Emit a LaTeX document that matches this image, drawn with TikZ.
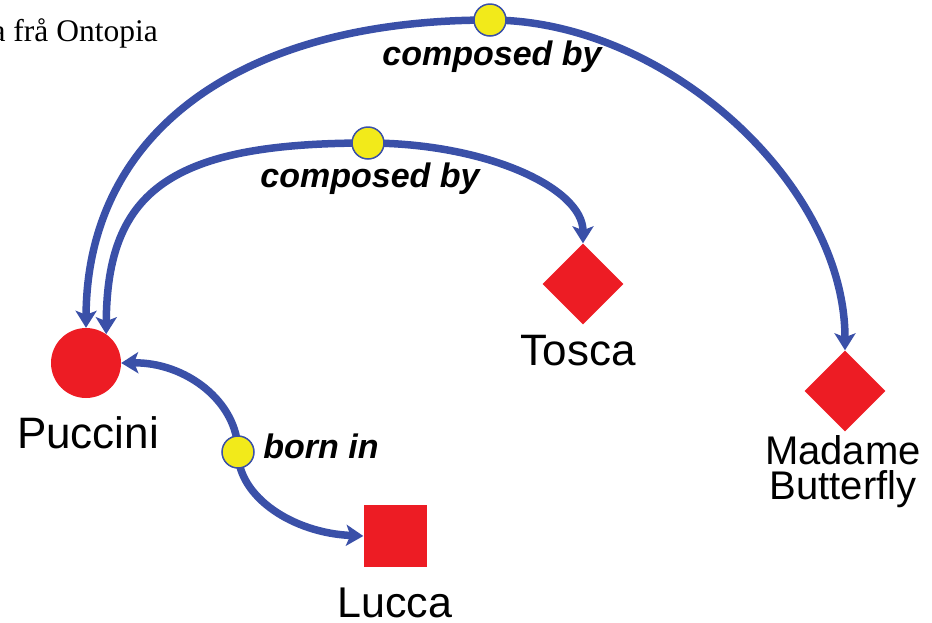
\documentclass[tikz,border=0pt]{standalone}
\usepackage{fontspec}
\setmainfont{Liberation Sans}
\newfontfamily\titleserif{Liberation Serif}
\usetikzlibrary{arrows.meta,shapes.geometric,backgrounds}
\definecolor{assocblue}{RGB}{58,80,168}
\definecolor{topicred}{RGB}{237,28,36}
\definecolor{dotyellow}{RGB}{242,234,26}
\tikzset{
  assoc/.style={draw=assocblue, line width=7.5pt, -{Stealth[length=17pt,width=21pt,inset=4pt]}},
  person/.style={circle, fill=topicred, minimum size=70pt, inner sep=0pt},
  opera/.style={diamond, fill=topicred, minimum width=81pt, minimum height=81pt, inner sep=0pt},
  city/.style={rectangle, fill=topicred, minimum width=63pt, minimum height=62pt, inner sep=0pt},
  assocdot/.style={circle, fill=dotyellow, draw=assocblue, line width=1.5pt, minimum size=32pt, inner sep=0pt},
  topicname/.style={font=\fontsize{44}{44}\selectfont, inner sep=0pt, anchor=base},
  rolelabel/.style={font=\fontsize{34}{34}\selectfont\bfseries\itshape, inner sep=0pt, anchor=base}
}
\begin{document}
\begin{tikzpicture}[x=1pt,y=-1pt]
\useasboundingbox (0,0) rectangle (932,622);
% title
\node[inner sep=0pt, anchor=base east, font=\titleserif\fontsize{31.5}{31.5}\selectfont] (title) at (158,41) {a frå Ontopia};
% topics
\node[person] (pu) at (86,363) {};
\node[opera] (ts) at (583,284) {};
\node[opera] (md) at (845,391) {};
\node[city] (lu) at (395,536) {};
% names
\node[topicname] (puname) at (88,448) {Puccini};
\node[topicname] (tsname) at (578,365) {Tosca};
\node[topicname, font=\fontsize{40}{35}\selectfont, align=center, anchor=north] (mdname) at (843,435) {Madame\\Butterfly};
\node[topicname, font=\fontsize{43}{43}\selectfont] (luname) at (395,617) {Lucca};
% association dots
\node[assocdot] (d1) at (490,20) {};
\node[assocdot] (d2) at (368,143) {};
\node[assocdot] (d3) at (238,452) {};
% association labels
\node[rolelabel] (l1) at (492,65) {composed by};
\node[rolelabel] (l2) at (370,187) {composed by};
\node[rolelabel] (l3) at (321,458) {born in};
% connectors
\begin{pgfonlayer}{background}
\draw[assoc] (d1.center) .. controls (236,20) and (87,135) .. (pu.north);
\draw[assoc] (d1.center) .. controls (667,20) and (845,185) .. (md.north);
\draw[assoc] (d2.center) .. controls (172,143) and (107,190) .. (pu.55);
\draw[assoc] (d2.center) .. controls (486,143) and (583,188) .. (ts.north);
\draw[assoc] (d3.center) .. controls (238,402) and (186,362) .. (pu.east);
\draw[assoc] (d3.center) .. controls (238,497) and (293,533) .. (lu.west);
\end{pgfonlayer}
\end{tikzpicture}
\end{document}
